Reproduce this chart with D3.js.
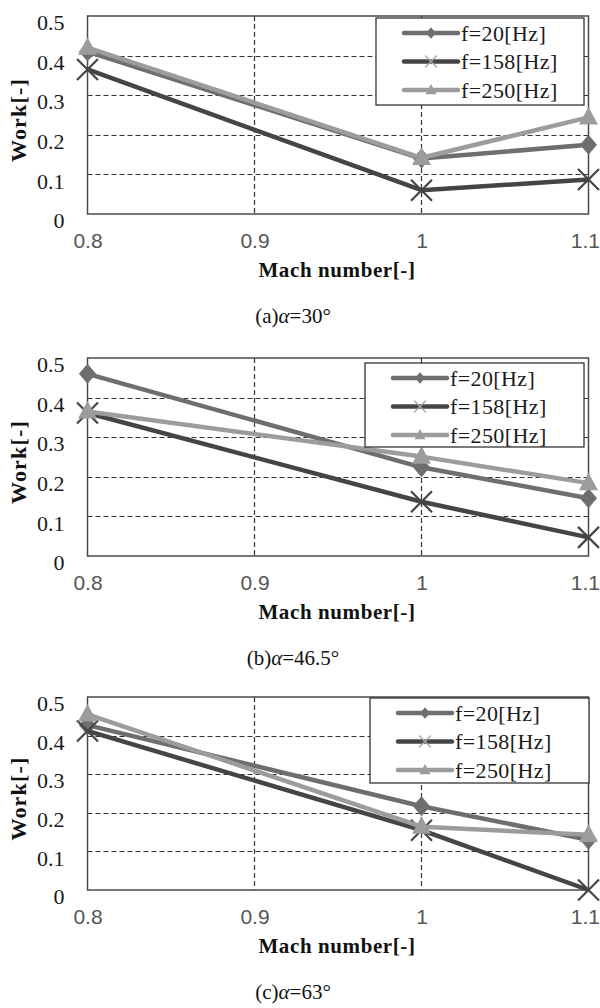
<!DOCTYPE html>
<html>
<head>
<meta charset="utf-8">
<script src="https://cdn.jsdelivr.net/npm/d3@7"></script>
<style>
  html, body { margin: 0; padding: 0; background: #fff; }
  svg { display: block; }
  .serif { font-family: "Liberation Serif", "Times New Roman", Times, serif; }
  .sans { font-family: "Liberation Sans", Arial, Helvetica, sans-serif; }
</style>
</head>
<body>
<svg id="chart" width="600" height="1008"></svg>
<script>
// Mach numbers at which the work was measured
const mach = [0.8, 1.0, 1.1];
const xTicks = [0.8, 0.9, 1, 1.1];
const yTicks = [0, 0.1, 0.2, 0.3, 0.4, 0.5];
const seriesNames = ["f=20[Hz]", "f=158[Hz]", "f=250[Hz]"];

// (a) alpha = 30 deg
const work30_f20  = [0.41, 0.14, 0.175];
const work30_f158 = [0.365, 0.06, 0.087];
const work30_f250 = [0.42, 0.142, 0.244];

// (b) alpha = 46.5 deg
const work465_f20  = [0.46, 0.224, 0.146];
const work465_f158 = [0.361, 0.137, 0.047];
const work465_f250 = [0.365, 0.251, 0.184];

// (c) alpha = 63 deg
const work63_f20  = [0.427, 0.217, 0.13];
const work63_f158 = [0.412, 0.155, 0.0];
const work63_f250 = [0.455, 0.164, 0.143];

const captionLetters = ["(a)", "(b)", "(c)"];
const captionAngles = ["=30°", "=46.5°", "=63°"];

const panelData = [
  [work30_f20, work30_f158, work30_f250],
  [work465_f20, work465_f158, work465_f250],
  [work63_f20, work63_f158, work63_f250]
];

// panel geometry: y of the top (0.5) and bottom (0) of each plot, and legend box
const panels = [
  { top: 16,  bottom: 214, legend: { x: 376, y: 18,  w: 208, h: 87 } },
  { top: 358, bottom: 556, legend: { x: 365, y: 363, w: 219, h: 84 } },
  { top: 697, bottom: 890, legend: { x: 370, y: 698, w: 219, h: 85 } }
];

const colors = ["#6e6e6e", "#454545", "#9c9c9c"];
const markerKinds = ["diamond", "cross", "triangle"];

const svg = d3.select("#chart");
const x = d3.scaleLinear().domain([0.8, 1.1]).range([87.5, 588.5]);

function markerPath(kind, s) {
  if (kind === "diamond") {
    return `M0,${-s * 1.05}L${s * 0.9},0L0,${s * 1.05}L${-s * 0.9},0Z`;
  }
  if (kind === "triangle") {
    return `M0,${-s * 1.1}L${s},${s * 0.75}L${-s},${s * 0.75}Z`;
  }
  return `M${-s},${-s}L${s},${s}M${-s},${s}L${s},${-s}`;
}

function drawMarker(g, kind, cx, cy, s, color, isLegend) {
  const p = g.append("path")
    .attr("transform", `translate(${cx},${cy})`)
    .attr("d", markerPath(kind, s));
  if (kind === "cross") {
    p.attr("fill", "none")
     .attr("stroke", isLegend ? "#a8a8a8" : color)
     .attr("stroke-width", isLegend ? 1.3 : 2.2);
  } else {
    p.attr("fill", color).attr("stroke", "none");
  }
}

panels.forEach((pn, pi) => {
  const g = svg.append("g");
  const y = d3.scaleLinear().domain([0, 0.5]).range([pn.bottom, pn.top]);

  // dashed grid
  const grid = g.append("g");
  grid.selectAll("line.h")
    .data(yTicks.filter(v => v > 0 && v < 0.5))
    .join("line")
    .attr("x1", x(0.8)).attr("x2", x(1.1))
    .attr("y1", d => Math.round(y(d)) + 0.5).attr("y2", d => Math.round(y(d)) + 0.5)
    .attr("stroke", "#333").attr("stroke-width", 1.2)
    .attr("stroke-dasharray", "5,3");
  grid.selectAll("line.v")
    .data(xTicks.filter(v => v > 0.8 && v < 1.1))
    .join("line")
    .attr("x1", d => x(d)).attr("x2", d => x(d))
    .attr("y1", y(0.5)).attr("y2", y(0))
    .attr("stroke", "#333").attr("stroke-width", 1.2)
    .attr("stroke-dasharray", "5,3");

  // plot frame
  g.append("rect")
    .attr("x", x(0.8)).attr("y", y(0.5))
    .attr("width", x(1.1) - x(0.8)).attr("height", y(0) - y(0.5))
    .attr("fill", "none").attr("stroke", "#4a4a4a").attr("stroke-width", 1.5);

  // y tick labels
  const yAxis = d3.axisLeft(y).tickValues(yTicks)
    .tickFormat(d => d === 0 ? "0" : d3.format(".1f")(d)).tickSize(0).tickPadding(23);
  const ya = g.append("g").attr("transform", `translate(${x(0.8)},0)`).call(yAxis);
  ya.select(".domain").remove();
  ya.attr("font-family", null).attr("font-size", null);
  ya.selectAll("text")
    .attr("class", "serif")
    .style("font-size", "22px").attr("fill", "#1a1a1a").attr("dy", "0.62em");

  // x tick labels
  const xAxis = d3.axisBottom(x).tickValues(xTicks)
    .tickFormat(d => d3.format("~g")(d)).tickSize(0).tickPadding(19);
  const xa = g.append("g").attr("transform", `translate(0,${y(0)})`).call(xAxis);
  xa.select(".domain").remove();
  xa.attr("font-family", null).attr("font-size", null);
  xa.selectAll("text")
    .attr("class", "sans")
    .style("font-size", "21px").attr("fill", "#555");
  // keep the last label inside the page
  xa.selectAll(".tick").filter(d => d === 1.1).select("text")
    .attr("text-anchor", "end").attr("x", 11);

  // axis titles
  g.append("text")
    .attr("class", "serif")
    .attr("x", 337).attr("y", y(0) + 63)
    .attr("text-anchor", "middle")
    .attr("font-weight", "bold")
    .style("font-size", "21px").attr("letter-spacing", 0.6).attr("fill", "#111")
    .text("Mach number[-]");
  g.append("text")
    .attr("class", "serif")
    .attr("transform", `translate(26,${(y(0) + y(0.5)) / 2 + 5}) rotate(-90)`)
    .attr("text-anchor", "middle")
    .attr("font-weight", "bold")
    .style("font-size", "22px").attr("letter-spacing", 1.2).attr("fill", "#111")
    .text("Work[-]");

  // caption
  const cap = g.append("text")
    .attr("class", "serif")
    .attr("x", 293).attr("y", y(0) + 109)
    .attr("text-anchor", "middle")
    .style("font-size", "21px").attr("fill", "#111");
  cap.append("tspan").text(captionLetters[pi]);
  cap.append("tspan").attr("font-style", "italic").text("α");
  cap.append("tspan").text(captionAngles[pi]);

  // series lines and markers
  const line = d3.line().x((d, i) => x(mach[i])).y(d => y(d));
  panelData[pi].forEach((vals, si) => {
    g.append("path")
      .attr("d", line(vals))
      .attr("fill", "none")
      .attr("stroke", colors[si])
      .attr("stroke-width", 4.5)
      .attr("stroke-linejoin", "round");
    const mg = g.append("g");
    vals.forEach((v, i) => {
      drawMarker(mg, markerKinds[si], x(mach[i]), y(v),
        markerKinds[si] === "cross" ? 10.5 : 9.5, colors[si], false);
    });
  });

  // legend
  const L = pn.legend;
  const lg = g.append("g");
  lg.append("rect")
    .attr("x", L.x).attr("y", L.y).attr("width", L.w).attr("height", L.h)
    .attr("fill", "#fff").attr("stroke", "#333").attr("stroke-width", 1.3);
  seriesNames.forEach((name, si) => {
    const ly = L.y + 15 + si * 28.5;
    const lx0 = L.x + 28, lx1 = L.x + 82;
    lg.append("line")
      .attr("x1", lx0).attr("x2", lx1).attr("y1", ly).attr("y2", ly)
      .attr("stroke", colors[si]).attr("stroke-width", 4.5).attr("stroke-linecap", "round");
    drawMarker(lg, markerKinds[si], (lx0 + lx1) / 2, ly,
      markerKinds[si] === "cross" ? 6 : 5.5, colors[si], true);
    lg.append("text")
      .attr("class", "serif")
      .attr("x", lx1 + 3).attr("y", ly + 7.5)
      .style("font-size", "22px").attr("letter-spacing", 0.4).attr("fill", "#1a1a1a")
      .text(name);
  });
});
</script>
</body>
</html>
